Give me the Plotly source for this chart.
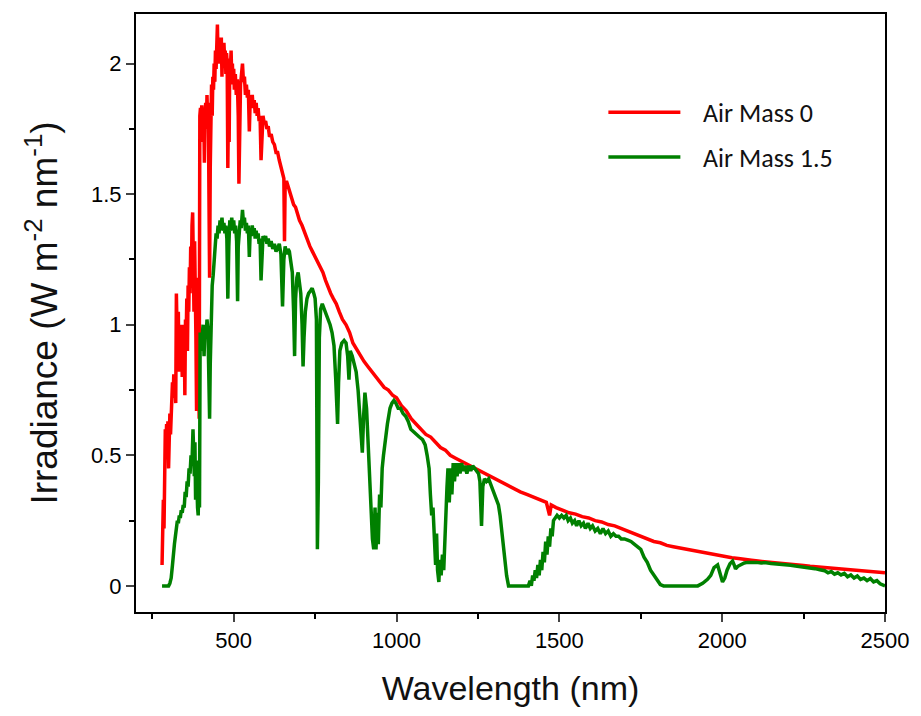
import plotly.graph_objects as go

# ---- Air Mass 0 ----
wl_am0 = [280,282,284,286,288,290,292,294,296,298,300,302,304,306,308,310,312,314,316,318,320,322,324,326,328,330,332,334,336,338,340,342,344,346,348,350,352,354,356,358,360,362,364,366,368,370,372,374,376,378,380,382,384,386,388,390,392,394,396,398,400,402,404,406,408,410,412,414,416,418,420,422,424,426,428,430,432,434,436,438,440,442,444,446,448,450,452,454,456,458,460,462,464,466,468,470,472,474,476,478,480,482,484,486,488,490,492,494,496,498,500,502,505,508,511,514,516,518,521,524,527,530,533,536,539,542,545,548,551,554,557,560,563,566,569,572,575,578,581,584,587,590,594,598,602,606,610,615,620,625,630,635,640,645,650,654,656,658,662,667,672,678,684,690,696,702,710,718,726,734,742,750,758,766,774,782,790,798,806,815,824,834,845,856,866,876,888,900,912,925,938,950,962,975,988,1000,1015,1030,1045,1060,1075,1090,1105,1120,1135,1150,1165,1180,1195,1210,1225,1240,1255,1270,1285,1300,1320,1340,1360,1380,1400,1420,1440,1460,1470,1475,1490,1510,1530,1550,1570,1590,1610,1630,1650,1670,1690,1710,1730,1750,1770,1790,1810,1830,1850,1870,1890,1910,1930,1950,1970,1990,2010,2030,2050,2070,2090,2110,2130,2150,2170,2190,2210,2230,2250,2270,2290,2310,2330,2350,2370,2390,2410,2430,2450,2470,2490,2500]
irr_am0 = [0.08,0.30,0.33,0.22,0.45,0.60,0.55,0.62,0.50,0.63,0.45,0.60,0.66,0.58,0.63,0.70,0.78,0.72,0.81,0.74,0.80,0.70,1.12,0.98,0.88,1.05,0.82,0.93,0.85,1.00,0.92,0.80,0.96,0.86,1.00,0.73,1.02,0.95,1.10,0.90,1.15,1.05,1.22,1.12,1.30,1.18,1.38,1.43,1.25,1.05,1.32,1.20,0.95,0.67,1.00,1.18,0.85,0.64,1.80,1.83,1.78,1.84,1.80,1.70,1.82,1.62,1.80,1.85,1.75,1.88,1.78,1.85,1.50,1.18,1.60,1.88,1.92,1.80,1.95,1.90,2.00,1.93,2.05,1.98,2.08,2.15,2.02,2.10,2.00,2.08,2.04,2.10,1.95,2.06,2.00,2.08,2.02,2.05,1.96,2.04,2.00,1.60,1.85,1.70,2.02,1.98,2.05,1.95,2.00,1.92,1.98,1.90,1.96,1.88,1.94,1.80,1.54,1.78,1.92,1.96,2.00,1.93,1.95,1.88,1.92,1.87,1.90,1.74,1.88,1.85,1.88,1.83,1.86,1.81,1.85,1.80,1.83,1.78,1.80,1.63,1.75,1.80,1.77,1.78,1.75,1.76,1.72,1.73,1.70,1.69,1.66,1.66,1.63,1.61,1.58,1.56,1.32,1.54,1.55,1.53,1.51,1.49,1.46,1.45,1.42,1.40,1.38,1.35,1.32,1.30,1.28,1.26,1.24,1.22,1.20,1.17,1.14,1.12,1.10,1.08,1.05,1.02,1.00,0.97,0.93,0.91,0.88,0.86,0.84,0.82,0.80,0.78,0.76,0.75,0.73,0.72,0.69,0.67,0.64,0.62,0.60,0.58,0.57,0.55,0.53,0.52,0.50,0.49,0.48,0.47,0.46,0.45,0.44,0.43,0.42,0.41,0.40,0.385,0.37,0.36,0.35,0.34,0.33,0.32,0.27,0.31,0.30,0.29,0.28,0.275,0.265,0.26,0.25,0.245,0.235,0.23,0.22,0.21,0.20,0.19,0.18,0.17,0.165,0.155,0.15,0.145,0.14,0.135,0.13,0.125,0.12,0.115,0.11,0.108,0.105,0.10,0.098,0.095,0.093,0.09,0.088,0.085,0.083,0.08,0.078,0.075,0.073,0.07,0.068,0.066,0.064,0.062,0.06,0.058,0.056,0.054,0.052,0.05]

# ---- Air Mass 1.5 ----
wl_am15 = [280,290,300,304,308,312,315,318,321,324,327,330,333,336,339,342,345,348,351,354,357,360,363,366,369,372,375,377,379,381,383,385,387,389,391,393,395,397,400,403,406,409,412,415,418,421,424,426,428,431,434,437,440,443,446,449,452,455,458,461,464,467,470,473,476,479,482,485,488,491,494,497,500,503,506,509,512,514,517,520,523,527,530,533,536,539,542,545,548,551,554,557,560,563,566,569,572,575,578,581,584,587,590,594,598,602,606,610,615,620,625,630,635,640,645,650,654,658,662,667,671,676,680,684,687,690,694,698,702,706,710,713,716,720,725,730,736,741,746,750,754,757,760,763,767,772,778,784,790,796,802,808,813,816,819,822,826,832,839,845,850,854,858,864,870,876,882,888,892,895,899,903,908,913,918,922,926,930,934,937,941,944,948,952,956,960,964,968,972,976,980,986,992,998,1005,1012,1020,1028,1036,1044,1052,1060,1070,1080,1088,1094,1100,1104,1108,1112,1116,1120,1123,1126,1130,1133,1137,1141,1145,1149,1152,1155,1158,1162,1166,1170,1174,1178,1182,1186,1190,1195,1200,1205,1210,1216,1222,1228,1234,1240,1246,1252,1256,1261,1265,1270,1276,1283,1289,1295,1302,1308,1313,1318,1323,1328,1333,1338,1344,1360,1380,1400,1405,1410,1414,1418,1422,1426,1430,1434,1438,1442,1446,1450,1454,1458,1462,1466,1470,1474,1478,1482,1487,1493,1500,1507,1514,1521,1527,1534,1540,1547,1553,1560,1567,1574,1580,1588,1595,1602,1610,1618,1626,1634,1642,1650,1658,1666,1674,1682,1690,1700,1710,1720,1730,1740,1750,1760,1770,1780,1790,1800,1810,1820,1900,1925,1940,1955,1965,1975,1986,1993,2001,2008,2015,2024,2032,2037,2041,2048,2058,2068,2078,2090,2105,2120,2135,2150,2165,2180,2195,2210,2225,2240,2255,2270,2285,2300,2315,2325,2335,2345,2355,2365,2375,2385,2395,2405,2415,2425,2435,2445,2455,2465,2475,2485,2492,2500]
irr_am15 = [0,0,0,0.01,0.03,0.08,0.14,0.16,0.19,0.22,0.25,0.24,0.27,0.26,0.29,0.28,0.31,0.30,0.36,0.34,0.40,0.38,0.45,0.43,0.50,0.47,0.60,0.52,0.42,0.55,0.33,0.48,0.35,0.30,0.27,0.40,0.30,0.97,0.90,0.98,1.00,0.88,1.00,0.95,1.02,0.98,0.80,0.64,0.85,1.08,1.15,1.19,1.25,1.30,1.35,1.33,1.38,1.35,1.40,1.37,1.41,1.36,1.39,1.35,1.38,1.33,1.10,1.30,1.40,1.36,1.41,1.37,1.40,1.35,1.38,1.32,1.09,1.30,1.38,1.40,1.37,1.44,1.39,1.41,1.36,1.39,1.35,1.38,1.26,1.37,1.34,1.38,1.35,1.37,1.33,1.36,1.33,1.35,1.31,1.33,1.17,1.30,1.34,1.32,1.34,1.31,1.33,1.30,1.32,1.29,1.31,1.28,1.30,1.31,1.27,1.07,1.25,1.30,1.27,1.29,1.28,1.24,1.20,1.05,0.88,1.10,1.18,1.20,1.16,1.12,1.00,0.84,0.95,1.05,1.10,1.12,1.13,1.14,1.12,1.10,1.02,0.14,0.40,0.95,1.06,1.08,1.06,1.04,1.02,1.00,0.97,0.92,0.80,0.70,0.62,0.78,0.90,0.93,0.94,0.93,0.88,0.79,0.90,0.88,0.85,0.82,0.75,0.65,0.55,0.51,0.65,0.74,0.68,0.55,0.40,0.25,0.18,0.14,0.30,0.14,0.28,0.16,0.35,0.30,0.45,0.50,0.55,0.58,0.62,0.65,0.68,0.70,0.71,0.70,0.68,0.68,0.66,0.65,0.63,0.60,0.59,0.58,0.57,0.56,0.54,0.50,0.45,0.35,0.27,0.30,0.18,0.08,0.20,0.06,0.015,0.10,0.04,0.12,0.06,0.22,0.28,0.38,0.45,0.32,0.45,0.35,0.47,0.40,0.47,0.42,0.47,0.43,0.47,0.44,0.46,0.43,0.46,0.44,0.46,0.45,0.44,0.43,0.40,0.23,0.38,0.41,0.40,0.41,0.39,0.37,0.35,0.33,0.31,0.27,0.21,0.15,0.09,0.04,0.0,0.0,0.0,0.0,0.0,0.02,0.0,0.04,0.02,0.06,0.03,0.08,0.04,0.10,0.06,0.13,0.09,0.17,0.12,0.19,0.15,0.22,0.19,0.25,0.26,0.27,0.26,0.27,0.26,0.27,0.25,0.26,0.24,0.25,0.23,0.25,0.23,0.24,0.22,0.24,0.22,0.23,0.21,0.22,0.20,0.22,0.20,0.21,0.19,0.20,0.19,0.19,0.18,0.18,0.175,0.17,0.16,0.15,0.14,0.11,0.09,0.06,0.04,0.02,0.005,0.0,0.0,0.0,0.01,0.025,0.04,0.07,0.08,0.05,0.015,0.03,0.06,0.085,0.095,0.08,0.065,0.075,0.082,0.088,0.09,0.091,0.09,0.088,0.089,0.086,0.085,0.082,0.08,0.079,0.076,0.074,0.072,0.068,0.066,0.062,0.058,0.05,0.055,0.045,0.05,0.042,0.048,0.035,0.042,0.03,0.038,0.025,0.03,0.02,0.028,0.015,0.02,0.008,0.005,0.0]

series_names = ["Air Mass 0", "Air Mass 1.5"]
series_colors = ["#ff0000", "#008000"]
x_ticks = [500, 1000, 1500, 2000, 2500]
y_ticks = [0, 0.5, 1, 1.5, 2]

sans = "Liberation Sans, Arial, sans-serif"
pad = "\u00a0\u00a0\u00a0"

fig = go.Figure()
fig.add_trace(go.Scatter(x=wl_am0, y=irr_am0, mode="lines", name=pad + series_names[0],
                         legendgroup="a", line=dict(color=series_colors[0], width=3.5)))
fig.add_trace(go.Scatter(x=wl_am15, y=irr_am15, mode="lines", name=pad + series_names[1],
                         legendgroup="b", line=dict(color=series_colors[1], width=3.5)))

fig.update_layout(
    width=921, height=716,
    margin=dict(l=136, r=33, t=12, b=104),
    paper_bgcolor="white", plot_bgcolor="white",
    showlegend=True,
    legend=dict(x=0.624, y=0.875, xanchor="left", yanchor="top",
                font=dict(family="Carlito, Lato, Open Sans, sans-serif", size=26, color="#111"),
                bgcolor="rgba(0,0,0,0)", itemwidth=72, tracegroupgap=8),
    xaxis=dict(range=[200, 2500], tickvals=x_ticks, ticks="outside", ticklen=8, tickwidth=2,
               showline=True, linecolor="black", linewidth=2, mirror=True, showgrid=False, zeroline=False,
               tickfont=dict(family=sans, size=22, color="black"),
               minor=dict(dtick=250, tick0=0, ticks="outside", ticklen=5, tickwidth=2, tickcolor="black"),
               title=dict(text="Wavelength (nm)", font=dict(family=sans, size=34, color="#111"), standoff=24)),
    yaxis=dict(range=[-0.1, 2.19], tickvals=y_ticks, ticks="outside", ticklen=8, tickwidth=2,
               showline=True, linecolor="black", linewidth=2, mirror=True, showgrid=False, zeroline=False,
               tickfont=dict(family=sans, size=22, color="black"),
               minor=dict(dtick=0.25, tick0=0, ticks="outside", ticklen=5, tickwidth=2, tickcolor="black"),
               title=dict(text="Irradiance (W m<sup>-2</sup> nm<sup>-1</sup>)",
                          font=dict(family=sans, size=37, color="#111"), standoff=22)),
)

fig.write_html("out.html")
